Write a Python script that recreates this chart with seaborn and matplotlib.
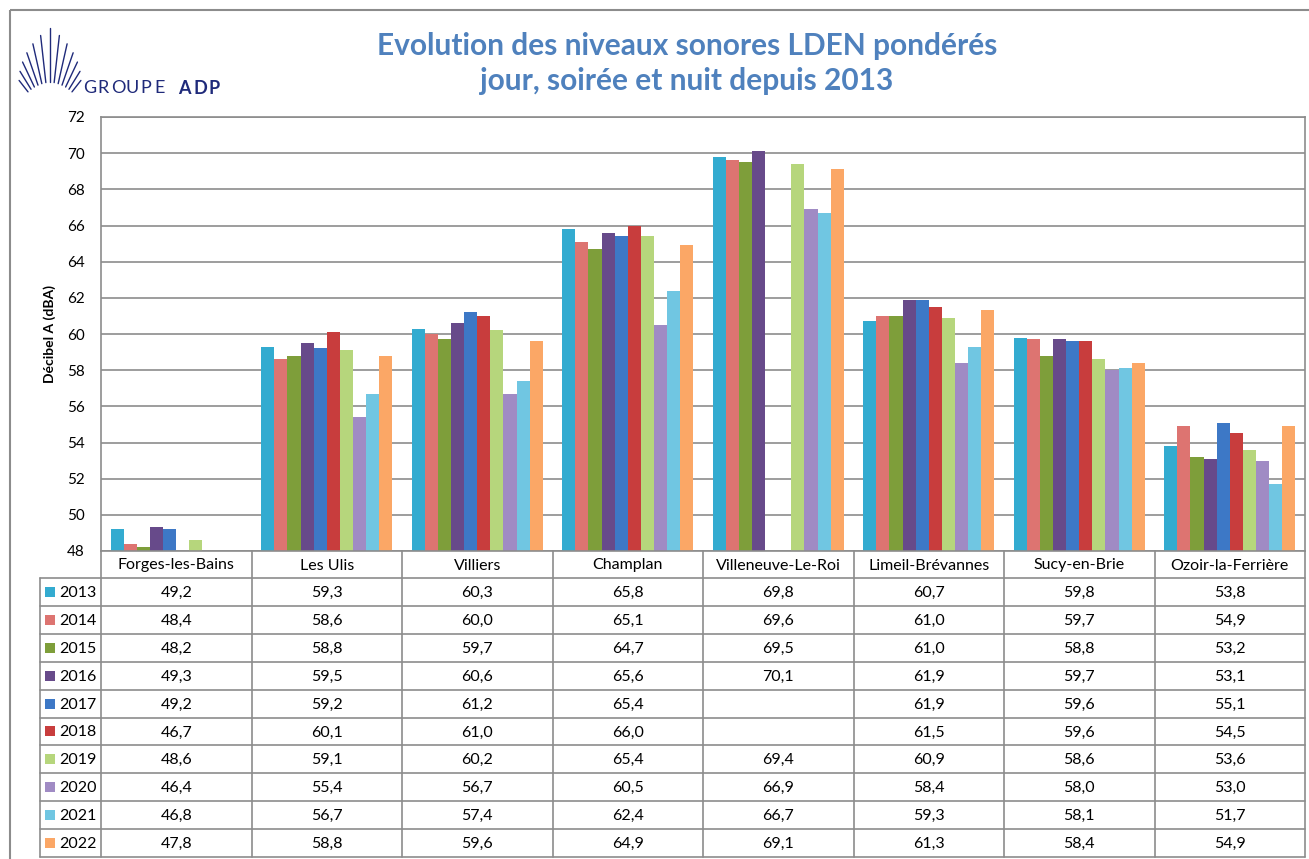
import numpy as np
import pandas as pd
import seaborn as sns
import matplotlib.pyplot as plt
from matplotlib.patches import Rectangle

sites = ["Forges-les-Bains", "Les Ulis", "Villiers", "Champlan", "Villeneuve-Le-Roi",
         "Limeil-Brévannes", "Sucy-en-Brie", "Ozoir-la-Ferrière"]
years = ["2013", "2014", "2015", "2016", "2017", "2018", "2019", "2020", "2021", "2022"]
v2013 = [49.2, 59.3, 60.3, 65.8, 69.8, 60.7, 59.8, 53.8]
v2014 = [48.4, 58.6, 60.0, 65.1, 69.6, 61.0, 59.7, 54.9]
v2015 = [48.2, 58.8, 59.7, 64.7, 69.5, 61.0, 58.8, 53.2]
v2016 = [49.3, 59.5, 60.6, 65.6, 70.1, 61.9, 59.7, 53.1]
v2017 = [49.2, 59.2, 61.2, 65.4, None, 61.9, 59.6, 55.1]
v2018 = [46.7, 60.1, 61.0, 66.0, None, 61.5, 59.6, 54.5]
v2019 = [48.6, 59.1, 60.2, 65.4, 69.4, 60.9, 58.6, 53.6]
v2020 = [46.4, 55.4, 56.7, 60.5, 66.9, 58.4, 58.0, 53.0]
v2021 = [46.8, 56.7, 57.4, 62.4, 66.7, 59.3, 58.1, 51.7]
v2022 = [47.8, 58.8, 59.6, 64.9, 69.1, 61.3, 58.4, 54.9]
series = [v2013, v2014, v2015, v2016, v2017, v2018, v2019, v2020, v2021, v2022]
yticks = list(range(48, 73, 2))

colors = ["#33ABD0", "#DD7471", "#7E9E3A", "#674A8A", "#3D78C6",
          "#C83D3D", "#B6D67C", "#A08BC4", "#70C6E2", "#FBA766"]

rows = []
for yr, vals in zip(years, series):
    for s, v in zip(sites, vals):
        rows.append({"site": s, "year": yr, "db": np.nan if v is None else v})
df = pd.DataFrame(rows)

sns.set_theme(style="white")
plt.rcParams["font.family"] = ["Lato", "DejaVu Sans"]

W, H = 1309, 859
fig = plt.figure(figsize=(W / 100, H / 100), dpi=100)

# plot area in pixel coordinates
px_l, px_r, px_t, px_b = 101, 1305, 117, 551
ax = fig.add_axes([px_l / W, (H - px_b) / H, (px_r - px_l) / W, (px_b - px_t) / H])
sns.barplot(data=df, x="site", y="db", hue="year", order=sites, hue_order=years,
            palette=colors, width=0.87, gap=0, errorbar=None, legend=False, ax=ax,
            saturation=1, linewidth=0)
ax.set_xlim(-0.5, len(sites) - 0.5)
ax.set_ylim(48, 72)
ax.set_yticks(yticks)
ax.set_xticks([])
ax.set_xlabel("")
ax.set_ylabel("")
ax.tick_params(axis="y", length=0, pad=11.5, labelsize=11, labelcolor="black")
ax.yaxis.grid(True, color="#8C8C8C", linewidth=1.2)
ax.set_axisbelow(True)
for sp in ax.spines.values():
    sp.set_color("#8C8C8C")
    sp.set_linewidth(1.2)

# overlay in pixel coordinates for table, titles, logo
ov = fig.add_axes([0, 0, 1, 1], zorder=5)
ov.set_xlim(0, W)
ov.set_ylim(H, 0)
ov.axis("off")
ov.patch.set_alpha(0)

ov.add_patch(Rectangle((10, 10), W + 20, H + 20, fill=False, edgecolor="#8C8C8C", linewidth=1.5))

ov.text(687, 46, "Evolution des niveaux sonores LDEN pondérés", ha="center", va="center",
        fontsize=21.5, fontweight="bold", color="#4F81BD")
ov.text(687, 81, "jour, soirée et nuit depuis 2013", ha="center", va="center",
        fontsize=21.5, fontweight="bold", color="#4F81BD")
ov.text(50, 334, "Décibel A (dBA)", rotation=90, ha="center", va="center",
        fontsize=10, fontweight="bold", color="black")

# logo
navy = "#1F2A7A"
fx, fy = 50, 120
for a in np.linspace(-38, 38, 13):
    r0 = 38 - abs(a) * 0.06
    r1 = 92 - abs(a) * 1.1
    t = np.radians(a)
    ov.plot([fx + r0 * np.sin(t), fx + r1 * np.sin(t)],
            [fy - r0 * np.cos(t), fy - r1 * np.cos(t)], color=navy, lw=1.0)
for i, ch in enumerate("GROUPE"):
    ov.text(83 + i * 14.3, 88, ch, ha="left", va="center", fontsize=13, color=navy)
for i, ch in enumerate("ADP"):
    ov.text(178 + i * 15.5, 88, ch, ha="left", va="center", fontsize=13,
            fontweight="bold", color=navy)

# data table
grid = "#8C8C8C"
col_w = (px_r - px_l) / len(sites)
head_b = 578
row_h = (857 - head_b) / len(years)
leg_l = 40
for i in range(len(sites) + 1):
    x = px_l + i * col_w
    ov.plot([x, x], [px_b, 857], color=grid, lw=1.2)
ov.plot([leg_l, leg_l], [head_b, 857], color=grid, lw=1.2)
for k in range(len(years) + 1):
    y = head_b + k * row_h
    ov.plot([leg_l, px_r], [y, y], color=grid, lw=1.2)
for i, s in enumerate(sites):
    ov.text(px_l + (i + 0.5) * col_w, (px_b + head_b) / 2 + 1, s, ha="center", va="center",
            fontsize=11.5, color="black")
for k, (yr, vals) in enumerate(zip(years, series)):
    yc = head_b + (k + 0.5) * row_h
    ov.add_patch(Rectangle((45, yc - 5), 10, 10, facecolor=colors[k], edgecolor="none"))
    ov.text(59, yc + 1, yr, ha="left", va="center", fontsize=11.5, color="black")
    for i, v in enumerate(vals):
        if v is None:
            continue
        ov.text(px_l + (i + 0.5) * col_w, yc + 1, f"{v:.1f}".replace(".", ","),
                ha="center", va="center", fontsize=11.5, color="black")

fig.savefig("out.png", dpi=100)
